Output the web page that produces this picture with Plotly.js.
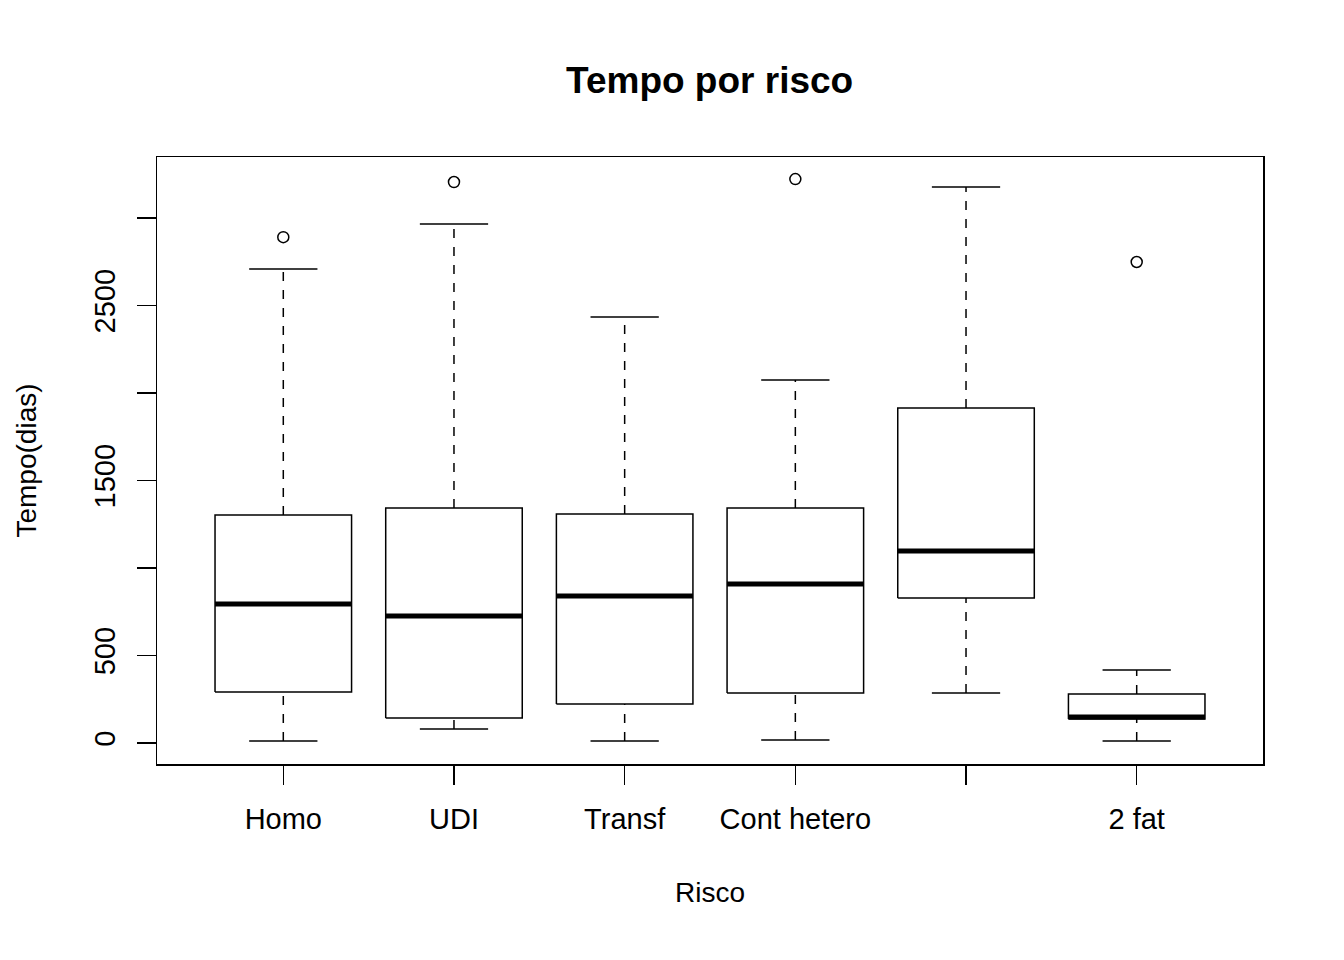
<!DOCTYPE html>
<html>
<head>
<meta charset="utf-8">
<script src="https://cdn.plot.ly/plotly-3.0.1.min.js"></script>
<style>body{margin:0;background:#fff}</style>
</head>
<body>
<div id="chart" style="width:1344px;height:960px"></div>
<script>
var categories = ['Homo', 'UDI', 'Transf', 'Cont hetero', '', '2 fat'];
var lowerWhisker = [11, 80, 11, 17, 286, 11];
var q1 = [291, 143, 223, 286, 829, 137];
var median = [794, 726, 840, 909, 1097, 149];
var q3 = [1303, 1343, 1309, 1343, 1914, 280];
var upperWhisker = [2709, 2966, 2434, 2074, 3177, 417];
var outlierX = [1, 2, 4, 6];
var outlierY = [2891, 3206, 3223, 2749];

var hw = 0.4, cw = 0.2;
var boxX = [], boxY = [], medX = [], medY = [], whX = [], whY = [], capX = [], capY = [];
for (var i = 0; i < categories.length; i++) {
    var x = i + 1;
    boxX.push(x - hw, x + hw, x + hw, x - hw, x - hw, null);
    boxY.push(q1[i], q1[i], q3[i], q3[i], q1[i], null);
    medX.push(x - hw, x + hw, null);
    medY.push(median[i], median[i], null);
    whX.push(x, x, null, x, x, null);
    whY.push(lowerWhisker[i], q1[i], null, q3[i], upperWhisker[i], null);
    capX.push(x - cw, x + cw, null, x - cw, x + cw, null);
    capY.push(lowerWhisker[i], lowerWhisker[i], null, upperWhisker[i], upperWhisker[i], null);
}

var line = {color: '#000', width: 1.5};
var data = [
    {x: whX, y: whY, mode: 'lines', line: {color: '#000', width: 1.5, dash: 'dash'}},
    {x: capX, y: capY, mode: 'lines', line: line},
    {x: boxX, y: boxY, mode: 'lines', line: line},
    {x: medX, y: medY, mode: 'lines', line: {color: '#000', width: 5}},
    {x: outlierX, y: outlierY, mode: 'markers',
     marker: {symbol: 'circle-open', size: 11, color: '#000', line: {width: 1.5}}}
];

var layout = {
    showlegend: false,
    plot_bgcolor: '#fff',
    paper_bgcolor: '#fff',
    font: {family: 'Liberation Sans, Arial, sans-serif', size: 27, color: '#000'},
    title: {text: '<b>Tempo por risco</b>', font: {size: 37}, x: 0.528, xanchor: 'center', y: 0.917, yanchor: 'middle'},
    margin: {l: 157, r: 81, t: 157, b: 196},
    xaxis: {
        range: [0.26, 6.74], tickvals: [1, 2, 3, 4, 5, 6], ticktext: categories,
        tickfont: {size: 29}, ticklabelstandoff: 10,
        ticks: 'outside', ticklen: 19, tickwidth: 1.5, tickcolor: '#000',
        showgrid: false, zeroline: false, showline: true, mirror: true, linewidth: 1.5, linecolor: '#000',
        title: {text: 'Risco', standoff: 48, font: {size: 28}}
    },
    yaxis: {
        range: [-120, 3349], tickvals: [0, 500, 1000, 1500, 2000, 2500, 3000],
        ticktext: ['0', '500', '', '1500', '', '2500', ''],
        tickfont: {size: 29}, ticklabelstandoff: 10,
        tickangle: -90, ticks: 'outside', ticklen: 19, tickwidth: 1.5, tickcolor: '#000',
        showgrid: false, zeroline: false, showline: true, mirror: true, linewidth: 1.5, linecolor: '#000',
        title: {text: 'Tempo(dias)', standoff: 44, font: {size: 28}}
    }
};

Plotly.newPlot('chart', data, layout, {staticPlot: true});
</script>
</body>
</html>
